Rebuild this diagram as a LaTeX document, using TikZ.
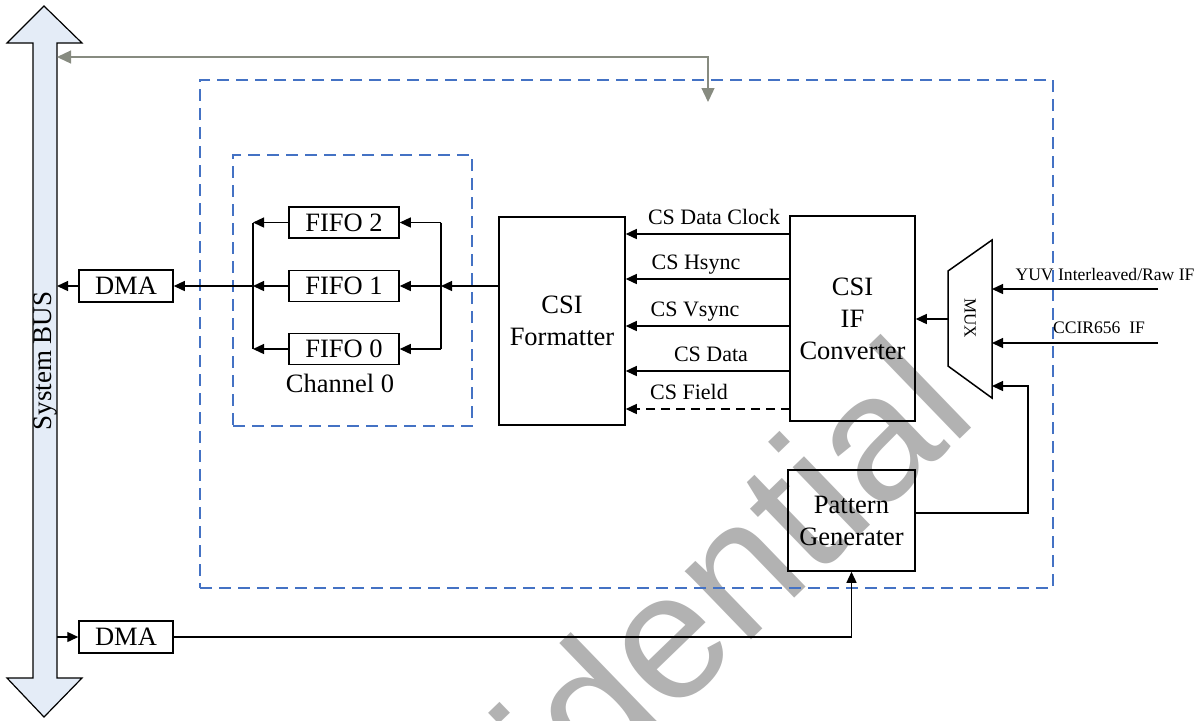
\documentclass[tikz,border=0pt]{standalone}
\usepackage{fontspec}
\setmainfont{Liberation Serif}
\newfontfamily\wmfont{Liberation Sans}
\usetikzlibrary{arrows.meta, positioning, calc}

\definecolor{busfill}{RGB}{228,236,247}
\definecolor{dashblue}{RGB}{68,114,196}
\definecolor{linkgray}{RGB}{135,139,128}

\begin{document}
\begin{tikzpicture}[
    x=0.5pt, y=-0.5pt,
    box/.style={rectangle, draw, line width=0.75pt, inner sep=1pt, align=center, font=\fontsize{13.25}{16}\selectfont},
    arr/.style={-{Triangle[length=5.5pt, width=5pt]}, line width=0.65pt},
    fld/.style={dash pattern=on 4.5pt off 3pt},
    sig/.style={font=\fontsize{11}{13}\selectfont, anchor=base, inner sep=0pt},
    ifl/.style={font=\fontsize{8.8}{10}\selectfont, anchor=base, inner sep=0pt},
    dbox/.style={rectangle, draw=dashblue, line width=0.7pt, dash pattern=on 6pt off 3.5pt},
    grayarr/.style={{Triangle[length=7pt, width=6.5pt]}-{Triangle[length=7pt, width=6.5pt]}, draw=linkgray, line width=0.65pt}
  ]

    \useasboundingbox (0,0) rectangle (1204,720);

    % Watermark
    \begin{scope}
      \clip (0,0) rectangle (1204,720);
      \node[font=\wmfont\fontsize{90}{90}\selectfont, text=black!30, rotate=44, inner sep=0pt] (wm) at (594,703) {Confidential};
    \end{scope}

    % System bus
    \draw[fill=busfill, line width=0.6pt] (44,6) -- (82,43) -- (57,43) -- (57,678) -- (82,678) -- (44,717) -- (7,678) -- (33,678) -- (33,43) -- (7,43) -- cycle;
    \node[rotate=90, font=\fontsize{13.5}{16}\selectfont] (busl) at (45,361) {System BUS};
    \coordinate (bus) at (57,361);

    % CSI module and channel
    \node[dbox, minimum width=426.5pt, minimum height=254pt] (csi) at (626.5,334) {};
    \node[dbox, minimum width=119.5pt, minimum height=135.5pt] (ch0) at (352.5,290.5) {};
    \node[font=\fontsize{13.25}{16}\selectfont] (ch0l) at (340,383) {Channel 0};

    \foreach \i/\yy in {2/222.5, 1/286, 0/349}
      \node[box, minimum width=55pt, minimum height=15.5pt] (fifo\i) at (344,\yy) {FIFO \i};

    \node[box, minimum width=47pt, minimum height=16pt] (dma1) at (126,286) {DMA};
    \node[box, minimum width=47pt, minimum height=16pt] (dma0) at (126,637) {DMA};

    \node[box, minimum width=63pt, minimum height=104pt] (fmt) at (562,321) {CSI\\Formatter};
    \node[box, minimum width=62.5pt, minimum height=102.5pt] (conv) at (852.5,318.5) {CSI\\IF\\Converter};
    \node[box, minimum width=63.5pt, minimum height=50.5pt] (pat) at (851.5,520.5) {Pattern\\Generater};

    % MUX
    \draw[line width=0.75pt] (948,271) -- (992,240) -- (992,398) -- (948,366) -- cycle;
    \node[rotate=-90, font=\fontsize{8.5}{10}\selectfont] (muxl) at (970,318) {MUX};
    \coordinate (muxout) at (948,319);
    \coordinate (muxin) at (992,319);

    % FIFO fan in / fan out
    \coordinate (lbus) at (253,286);
    \coordinate (rbus) at (441,286);
    \foreach \i in {0,1,2} {
      \draw[arr] (fifo\i.west) -- (fifo\i.west -| lbus);
      \draw[arr] (fifo\i.east -| rbus) -- (fifo\i.east);
    }
    \draw[line width=0.65pt] (fifo2.west -| lbus) -- (fifo0.west -| lbus);
    \draw[line width=0.65pt] (fifo2.east -| rbus) -- (fifo0.east -| rbus);
    \draw[arr] (lbus) -- (dma1.east);
    \draw[arr] (dma1.west) -- (dma1.west -| bus);
    \draw[arr] (fmt.west |- rbus) -- (rbus);

    % Converter to formatter
    \foreach \yy/\xx/\txt/\sty [count=\k] in {234/714/CS Data Clock/solid, 279/696/CS Hsync/solid, 326/695/CS Vsync/solid, 371/711/CS Data/solid, 409/689/CS Field/fld} {
      \coordinate (s\k) at (790,\yy);
      \draw[arr, \sty] (s\k) -- (s\k -| fmt.east);
      \node[sig] (sl\k) at (\xx,\yy-10) {\txt};
    }

    % Inputs
    \draw[arr] (muxout) -- (muxout -| conv.east);
    \coordinate (yuv) at (1158,289);
    \coordinate (ccir) at (1158,343);
    \draw[arr] (yuv) -- (yuv -| muxin);
    \draw[arr] (ccir) -- (ccir -| muxin);
    \node[ifl] (yuvl) at (1105,280) {YUV Interleaved/Raw IF};
    \node[ifl] (ccirl) at (1099,333) {CCIR656\ \ IF};
    \coordinate (fb) at (1028,386);
    \draw[arr] ([yshift=3.75pt]pat.east) -| (fb) -- (fb -| muxin);

    % DMA to pattern generater
    \draw[arr] (dma0.west -| bus) -- (dma0.west);
    \draw[arr] (dma0.east) -| (pat.south);

    % Register link
    \coordinate (gk) at (708,57);
    \coordinate (gend) at (708,102);
    \draw[grayarr] (gk -| bus) -- (gk) -- (gend);

  \end{tikzpicture}
\end{document}
